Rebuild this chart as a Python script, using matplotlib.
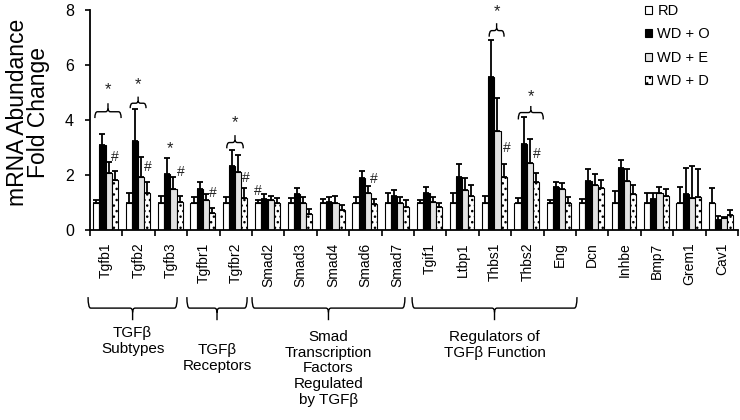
import matplotlib
matplotlib.use("Agg")
import matplotlib.pyplot as plt
from matplotlib.path import Path
from matplotlib.patches import PathPatch
import matplotlib.transforms as mtransforms
import numpy as np

plt.rcParams['font.family'] = ['Liberation Sans', 'DejaVu Sans']
plt.rcParams['hatch.linewidth'] = 1.0

# ---------------- data ----------------
genes = ["Tgfb1", "Tgfb2", "Tgfb3", "Tgfbr1", "Tgfbr2", "Smad2", "Smad3", "Smad4",
         "Smad6", "Smad7", "Tgif1", "Ltbp1", "Thbs1", "Thbs2", "Eng", "Dcn", "Inhbe",
         "Bmp7", "Grem1", "Cav1"]
series = ["RD", "WD + O", "WD + E", "WD + D"]

rd_mean = [1.0] * 20
rd_err = [0.09, 0.33, 0.24, 0.20, 0.21, 0.10, 0.18, 0.13, 0.19, 0.33,
          0.10, 0.33, 0.25, 0.18, 0.09, 0.12, 0.43, 0.33, 0.55, 0.52]
wdo_mean = [3.09, 3.25, 2.04, 1.50, 2.33, 1.12, 1.31, 1.03, 1.90, 1.24,
            1.36, 1.92, 5.55, 3.13, 1.55, 1.78, 2.24, 1.12, 1.30, 0.36]
wdo_err = [0.39, 1.15, 0.58, 0.26, 0.58, 0.18, 0.20, 0.16, 0.25, 0.21,
           0.19, 0.48, 1.36, 0.99, 0.21, 0.44, 0.31, 0.24, 0.94, 0.15]
wde_mean = [2.06, 1.94, 1.50, 1.08, 2.12, 1.09, 1.00, 1.00, 1.36, 1.00,
            1.03, 1.45, 3.61, 2.42, 1.49, 1.64, 1.79, 1.33, 1.15, 0.42]
wde_err = [0.42, 0.70, 0.44, 0.22, 0.60, 0.15, 0.19, 0.24, 0.24, 0.19,
           0.18, 0.43, 1.18, 0.88, 0.23, 0.40, 0.42, 0.25, 1.19, 0.06]
wdd_mean = [1.82, 1.36, 1.02, 0.61, 1.15, 0.97, 0.58, 0.73, 0.93, 0.85,
            0.85, 1.24, 1.92, 1.76, 0.99, 1.52, 1.30, 1.24, 1.19, 0.55]
wdd_err = [0.33, 0.37, 0.22, 0.20, 0.37, 0.18, 0.17, 0.17, 0.19, 0.24,
           0.12, 0.40, 0.48, 0.32, 0.22, 0.30, 0.34, 0.24, 1.03, 0.18]

yticks = [0, 2, 4, 6, 8]

# significance (*) braces: (start, end, base, line, tip, star)
sig_braces = [(-0.35, 0.46, 4.07, 4.30, 4.61, 5.12),
              (0.74, 1.23, 4.43, 4.61, 4.85, 5.27),
              (3.72, 4.23, 2.97, 3.18, 3.45, 3.90),
              (11.82, 12.28, 7.03, 7.25, 7.52, 7.94),
              (12.72, 13.49, 4.02, 4.27, 4.51, 4.85)]
star_only = [(1.97, 2.97)]
# '#' marks (x in category units, y value)
hash_marks = [(0.27, 2.65), (1.29, 2.29), (2.31, 2.11), (3.30, 1.35), (4.31, 1.89),
              (4.69, 1.42), (8.27, 1.85), (12.37, 2.98), (13.30, 2.76)]

# category groups below the axis
groups = ["TGF\u03b2\nSubtypes", "TGF\u03b2\nReceptors",
          "Smad\nTranscription\nFactors\nRegulated\nby TGF\u03b2",
          "Regulators of\nTGF\u03b2 Function"]
group_span = [(-0.56, 2.19), (2.49, 4.35), (4.50, 9.22), (9.44, 14.53)]
group_text_top = [-0.436, -0.514, -0.455, -0.455]

# ---------------- figure ----------------
fig = plt.figure(figsize=(7.4, 4.2), dpi=100)
ax = fig.add_axes([90 / 740, 1 - 230 / 420, 648 / 740, 220 / 420])

x = np.arange(len(genes))
w = 0.19
shift = -0.02
means = [rd_mean, wdo_mean, wde_mean, wdd_mean]
errs = [rd_err, wdo_err, wde_err, wdd_err]
faces = ["white", "black", "#e2e2e2", "white"]
hatches = [None, None, None, "..."]
handles = []
for i in range(4):
    pos = x + shift + (i - 1.5) * w
    b = ax.bar(pos, means[i], width=w, color=faces[i], edgecolor="black",
               linewidth=0.8, hatch=hatches[i], zorder=2)
    handles.append(b)
    ax.errorbar(pos, means[i], yerr=[np.zeros(len(genes)), errs[i]], fmt="none",
                ecolor="black", elinewidth=1.3, capsize=2.2, capthick=1.3, zorder=3)

ax.set_xlim(-0.5, len(genes) - 0.5)
ax.set_ylim(0, 8)
ax.set_yticks(yticks)
ax.set_yticklabels([str(t) for t in yticks], fontsize=11.5)
ax.tick_params(axis="y", direction="out", length=3.5, width=1.2, pad=8)
ax.set_xticks(x)
ax.set_xticklabels(genes, rotation=90, fontsize=10, va="top")
ax.tick_params(axis="x", which="major", length=0, pad=9)
ax.set_xticks(np.arange(-0.5, len(genes), 1.0), minor=True)
ax.tick_params(axis="x", which="minor", direction="out", length=4, width=1.2)
for s in ["top", "right"]:
    ax.spines[s].set_visible(False)
for s in ["left", "bottom"]:
    ax.spines[s].set_linewidth(1.3)

fig.text(28 / 740, 1 - 112 / 420, "mRNA Abundance\nFold Change", rotation=90,
         ha="center", va="center", fontsize=16.5, linespacing=0.92)


def draw_brace(ax, x0, x1, ybase, yline, ytip, r, transform, lw):
    xm = (x0 + x1) / 2.0
    d = (ytip - yline) * 0.35
    verts = [(x0, ybase), (x0, yline), (x0 + r, yline), (xm - r, yline),
             (xm, yline), (xm, yline + d), (xm, ytip),
             (x1, ybase), (x1, yline), (x1 - r, yline), (xm + r, yline),
             (xm, yline), (xm, yline + d)]
    codes = [Path.MOVETO, Path.CURVE3, Path.CURVE3, Path.LINETO,
             Path.CURVE3, Path.CURVE3, Path.LINETO,
             Path.MOVETO, Path.CURVE3, Path.CURVE3, Path.LINETO,
             Path.CURVE3, Path.CURVE3]
    p = PathPatch(Path(verts, codes), facecolor="none", edgecolor="black",
                  lw=lw, transform=transform, clip_on=False)
    ax.add_patch(p)


for (x0, x1, yb, yl, yt, ys) in sig_braces:
    draw_brace(ax, x0, x1, yb, yl, yt, 0.08, ax.transData, 1.0)
    ax.text((x0 + x1) / 2, ys, "*", ha="center", va="center", fontsize=12,
            color="#222222")
for (xs, ys) in star_only:
    ax.text(xs, ys, "*", ha="center", va="center", fontsize=12, color="#222222")
for (xh, yh) in hash_marks:
    ax.text(xh, yh, "#", ha="center", va="center", fontsize=10, color="#222222")

blend = mtransforms.blended_transform_factory(ax.transData, ax.transAxes)
for (x0, x1), label, ttop in zip(group_span, groups, group_text_top):
    draw_brace(ax, x0, x1, -0.305, -0.355, -0.41, 0.08, blend, 1.0)
    ax.text((x0 + x1) / 2, ttop, label, transform=blend, ha="center", va="top",
            fontsize=11, linespacing=1.15, clip_on=False)

leg = ax.legend(handles, series, loc="upper left",
                bbox_to_anchor=(645 / 740, 1 - 4 / 420), bbox_transform=fig.transFigure,
                frameon=False, fontsize=10.5, handlelength=0.5, handleheight=0.5,
                handletextpad=0.35, labelspacing=0.65, borderpad=0, borderaxespad=0)

fig.savefig("out.png", dpi=100)
